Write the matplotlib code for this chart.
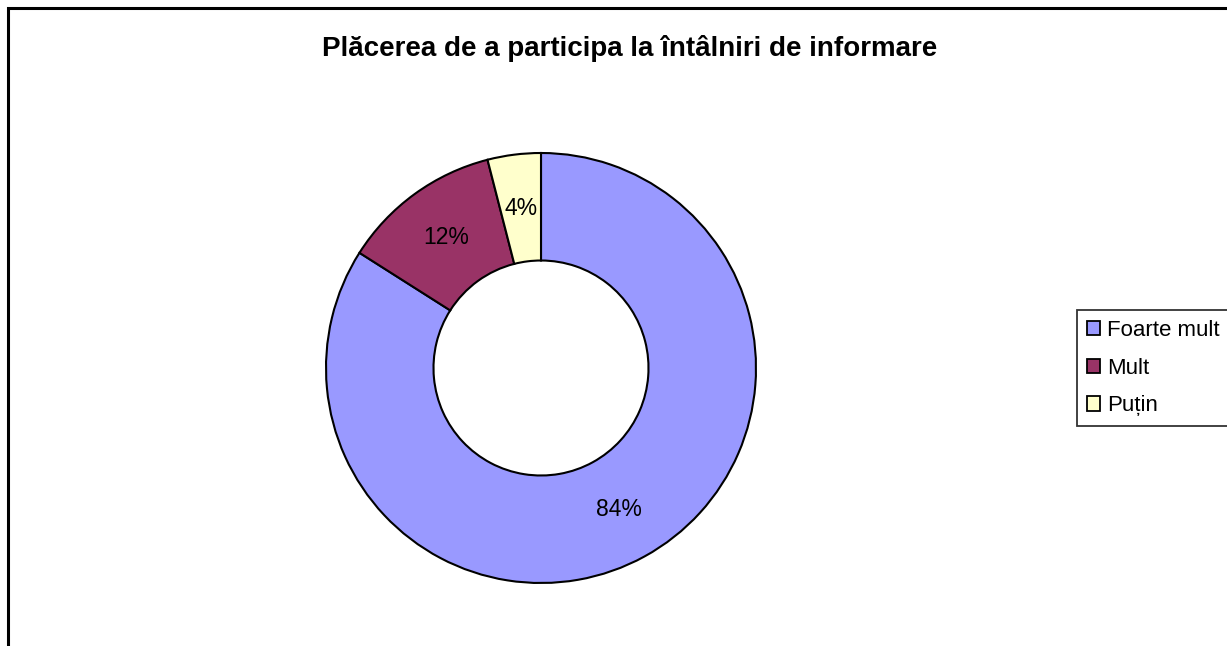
import numpy as np
import matplotlib as mpl
from matplotlib import pylab as plt
from matplotlib.patches import Rectangle

plt.rcParams['font.family'] = ['Liberation Sans', 'DejaVu Sans']

title = 'Plăcerea de a participa la întâlniri de informare'
categories = ['Foarte mult', 'Mult', 'Puțin']
values = [84, 12, 4]
colors = ['#9999FF', '#993366', '#FFFFCC']

W, H = 1227, 646
fig = plt.figure(figsize=[W / 100, H / 100], dpi=100)

# outer chart frame (right and bottom run off the picture)
fig.patches.append(Rectangle((8 / W, -0.1), 1.2, 1 - 8 / H + 0.1,
                             transform=fig.transFigure, fill=False,
                             edgecolor='black', linewidth=2.2))

cx, cy, r = 541, 368, 215
ax = fig.add_axes([(cx - r) / W, (H - cy - r) / H, 2 * r / W, 2 * r / H])
wedges, texts = ax.pie(values, colors=colors, startangle=90, counterclock=False,
                       radius=1, wedgeprops={'width': 0.5, 'edgecolor': 'black',
                                             'linewidth': 1.5})
for w, v in zip(wedges, values):
    ang = np.deg2rad((w.theta1 + w.theta2) / 2)
    ax.text(0.75 * np.cos(ang), 0.75 * np.sin(ang), f'{v}%',
            ha='center', va='center', fontsize=16.5)
ax.set_xlim(-1, 1)
ax.set_ylim(-1, 1)
ax.set_aspect('equal')

fig.text(630 / W, 1 - 48 / H, title, ha='center', va='center',
         fontsize=20, fontweight='bold')

leg = fig.legend(wedges, categories, loc='upper left',
                 bbox_to_anchor=(1077 / W, 1 - 310 / H), fontsize=16,
                 frameon=True, fancybox=False, shadow=False,
                 handlelength=0.6, handleheight=0.6, handletextpad=0.3,
                 labelspacing=0.75, borderpad=0.45, borderaxespad=0)
leg.get_frame().set_edgecolor('black')
leg.get_frame().set_linewidth(1.3)
for h in leg.legend_handles:
    h.set_linewidth(1.3)

plt.savefig('out.png', dpi=100)
plt.close()
